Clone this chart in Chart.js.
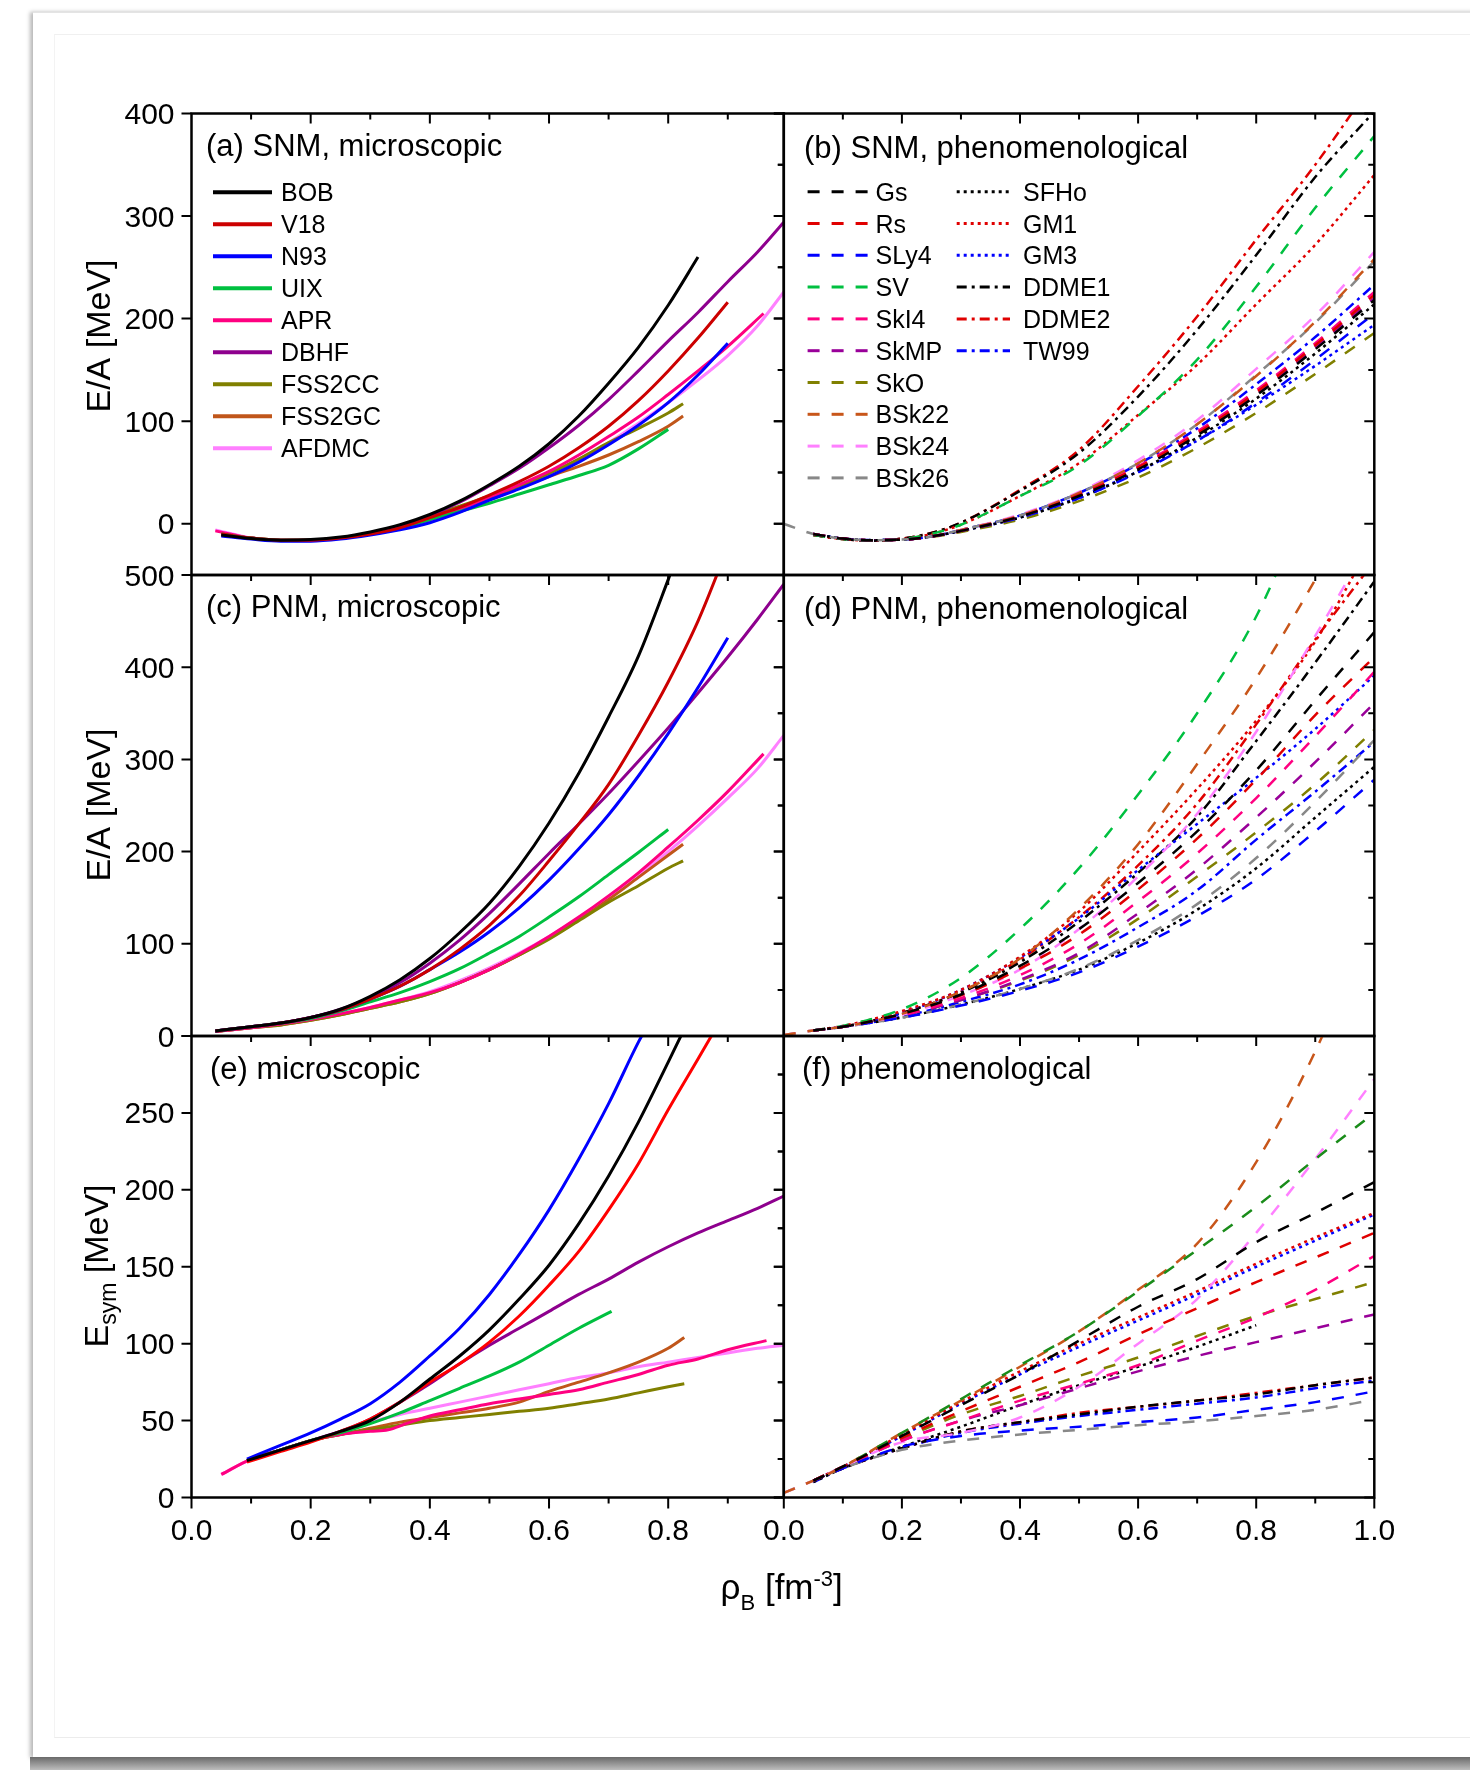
<!DOCTYPE html>
<html>
<head>
<title>Nuclear matter EoS</title>
<script src="https://cdn.jsdelivr.net/npm/chart.js"></script>
<style>
  body { margin: 0; width: 1470px; height: 1770px; overflow: hidden; position: relative; background: #fff; }
  #sheet { position: absolute; left: 33px; top: 12px; width: 1450px; height: 1745px; background: #fff;
           border-top: 1px solid #e4e4e4; box-shadow: -3px 0 4px rgba(0,0,0,0.28); }
  #inner { position: absolute; left: 54px; top: 34px; width: 1430px; height: 1702px;
           border-top: 1px solid #f0f0f0; border-left: 1px solid #f3f3f3; border-bottom: 1px solid #ececec; }
  #curl { position: absolute; left: 30px; top: 1757px; width: 1450px; height: 13px;
          background: linear-gradient(#6a6a6a, #bdbdbd); }
  canvas { position: absolute; left: 0; top: 0; }
</style>
</head>
<body>
<div id="sheet"></div>
<div id="inner"></div>
<div id="curl"></div>
<canvas id="pa" width="1470" height="1770"></canvas>
<canvas id="pb" width="1470" height="1770"></canvas>
<canvas id="pc" width="1470" height="1770"></canvas>
<canvas id="pd" width="1470" height="1770"></canvas>
<canvas id="pe" width="1470" height="1770"></canvas>
<canvas id="pf" width="1470" height="1770"></canvas>
<script>
// ---------- names / tick labels
const microNames = ['BOB', 'V18', 'N93', 'UIX', 'APR', 'DBHF', 'FSS2CC', 'FSS2GC', 'AFDMC'];
const phenoNames = ['Gs', 'Rs', 'SLy4', 'SV', 'SkI4', 'SkMP', 'SkO', 'BSk22', 'BSk24', 'BSk26',
                    'SFHo', 'GM1', 'GM3', 'DDME1', 'DDME2', 'TW99'];
const rhoTicksLeft = [0.0, 0.2, 0.4, 0.6, 0.8];
const rhoTicksRight = [0.0, 0.2, 0.4, 0.6, 0.8, 1.0];
const eaTicksSNM = [0, 100, 200, 300, 400];
const eaTicksPNM = [0, 100, 200, 300, 400, 500];
const esymTicks = [0, 50, 100, 150, 200, 250];

// ---------- (a) SNM microscopic  [rho, E/A]
const snmBOB = [[0.05,-11],[0.1,-14.5],[0.15,-16],[0.2,-15.5],[0.25,-13],[0.3,-8],[0.35,-1],[0.4,9],[0.45,22],[0.5,38],[0.55,56],[0.6,78],[0.65,105],[0.7,137],[0.75,172],[0.8,213],[0.85,260]];
const snmV18 = [[0.05,-10],[0.1,-14],[0.15,-16],[0.2,-16],[0.25,-14],[0.3,-10],[0.35,-4],[0.4,6],[0.45,16],[0.5,28],[0.55,41],[0.6,56],[0.65,74],[0.7,95],[0.75,120],[0.8,149],[0.85,181],[0.9,216]];
const snmN93 = [[0.05,-12],[0.1,-15],[0.15,-17],[0.2,-17],[0.25,-15],[0.3,-11],[0.35,-6],[0.4,1],[0.45,11],[0.5,23],[0.55,34],[0.6,46],[0.65,60],[0.7,77],[0.75,96],[0.8,118],[0.85,145],[0.9,176]];
const snmUIX = [[0.05,-10],[0.1,-14],[0.15,-16],[0.2,-16],[0.25,-14],[0.3,-10],[0.35,-5],[0.4,4],[0.45,12],[0.5,20],[0.55,29],[0.6,38],[0.65,47],[0.7,57],[0.75,73],[0.8,92]];
const snmAPR = [[0.04,-7],[0.1,-14],[0.15,-16],[0.2,-16],[0.25,-14],[0.3,-10],[0.35,-4],[0.4,4],[0.45,14],[0.5,26],[0.55,38],[0.6,51],[0.65,67],[0.7,85],[0.75,104],[0.8,126],[0.85,149],[0.9,173],[0.96,205]];
const snmDBHF = [[0.05,-11],[0.1,-14],[0.15,-16],[0.2,-16],[0.25,-14],[0.3,-9],[0.35,-2],[0.4,8],[0.45,21],[0.5,37],[0.55,54],[0.6,74],[0.65,96],[0.7,121],[0.75,149],[0.8,178],[0.85,206],[0.9,236],[0.95,265],[0.994,294]];
const snmFSS2CC = [[0.05,-10],[0.1,-14],[0.15,-16],[0.2,-16],[0.25,-14],[0.3,-9],[0.35,-2],[0.4,8],[0.45,17],[0.5,27],[0.55,37],[0.6,49],[0.65,63],[0.7,79],[0.75,93],[0.8,108],[0.825,117]];
const snmFSS2GC = [[0.05,-10],[0.1,-14],[0.15,-16],[0.2,-16],[0.25,-14],[0.3,-10],[0.35,-4],[0.4,5],[0.45,15],[0.5,25],[0.55,35],[0.6,46],[0.65,56],[0.7,67],[0.75,80],[0.8,95],[0.825,105]];
const snmAFDMC = [[0.04,-6],[0.1,-14],[0.15,-16],[0.2,-16.5],[0.25,-14],[0.3,-10],[0.35,-4],[0.4,3],[0.45,12],[0.5,23],[0.55,35],[0.6,48],[0.65,63],[0.7,79],[0.75,98],[0.8,118],[0.85,140],[0.9,164],[0.95,193],[0.994,226]];

// ---------- (c) PNM microscopic
const pnmBOB = [[0.04,5.5],[0.1,10],[0.15,14],[0.2,20],[0.25,29],[0.3,43],[0.35,61],[0.4,84],[0.45,112],[0.5,144],[0.55,184],[0.6,231],[0.65,285],[0.7,346],[0.75,412],[0.8,495],[0.82,530]];
const pnmV18 = [[0.04,5.5],[0.1,10],[0.15,14],[0.2,20],[0.25,28],[0.3,40],[0.35,54],[0.4,72],[0.45,94],[0.5,120],[0.55,152],[0.6,190],[0.65,230],[0.7,273],[0.75,326],[0.8,384],[0.85,450],[0.9,530]];
const pnmN93 = [[0.04,5.5],[0.1,10],[0.15,14],[0.2,20],[0.25,28],[0.3,40],[0.35,54],[0.4,72],[0.45,91],[0.5,113],[0.55,139],[0.6,169],[0.65,203],[0.7,240],[0.75,282],[0.8,328],[0.85,378],[0.9,432]];
const pnmUIX = [[0.04,5.5],[0.1,10],[0.15,14],[0.2,19],[0.25,27],[0.3,37],[0.35,47],[0.4,59],[0.45,73],[0.5,90],[0.55,108],[0.6,129],[0.65,151],[0.7,175],[0.75,199],[0.8,224]];
const pnmAPR = [[0.04,5],[0.1,9],[0.15,13],[0.2,18],[0.25,24],[0.3,31],[0.35,39],[0.4,47],[0.45,58],[0.5,72],[0.55,89],[0.6,108],[0.65,129],[0.7,152],[0.75,177],[0.8,205],[0.85,234],[0.9,265],[0.96,306]];
const pnmDBHF = [[0.04,5.5],[0.1,10],[0.15,14],[0.2,20],[0.25,29],[0.3,42],[0.35,58],[0.4,79],[0.45,104],[0.5,133],[0.55,165],[0.6,198],[0.65,230],[0.7,263],[0.75,298],[0.8,334],[0.85,372],[0.9,411],[0.95,452],[0.994,490]];
const pnmFSS2CC = [[0.04,5],[0.1,9],[0.15,12],[0.2,17],[0.25,23],[0.3,30],[0.35,37],[0.4,46],[0.45,58],[0.5,72],[0.55,88],[0.6,105],[0.65,125],[0.7,145],[0.75,163],[0.8,182],[0.825,190]];
const pnmFSS2GC = [[0.04,5],[0.1,9],[0.15,12],[0.2,17],[0.25,23],[0.3,30],[0.35,37],[0.4,46],[0.45,58],[0.5,72],[0.55,88],[0.6,106],[0.65,126],[0.7,148],[0.75,172],[0.8,196],[0.825,208]];
const pnmAFDMC = [[0.04,5],[0.1,9],[0.15,13],[0.2,18],[0.25,24],[0.3,31],[0.35,39],[0.4,48],[0.45,60],[0.5,74],[0.55,90],[0.6,108],[0.65,128],[0.7,150],[0.75,174],[0.8,200],[0.85,228],[0.9,258],[0.95,290],[0.994,326]];

// ---------- (e) Esym microscopic
const symBOB = [[0.093,24],[0.15,31],[0.2,37],[0.25,43],[0.3,50],[0.35,62],[0.4,77],[0.45,92],[0.5,109],[0.55,129],[0.6,151],[0.65,178],[0.7,209],[0.75,244],[0.8,283],[0.84,315]];
const symV18 = [[0.093,23],[0.15,30],[0.2,36],[0.25,43],[0.3,51],[0.35,62],[0.4,75],[0.45,87],[0.5,101],[0.55,118],[0.6,138],[0.65,160],[0.7,187],[0.75,217],[0.8,252],[0.85,285],[0.88,305]];
const symN93 = [[0.093,25],[0.15,34],[0.2,42],[0.25,51],[0.3,61],[0.35,75],[0.4,92],[0.45,110],[0.5,132],[0.55,158],[0.6,187],[0.65,220],[0.7,256],[0.75,296],[0.77,310]];
const symUIX = [[0.093,24],[0.15,31],[0.2,37],[0.25,42],[0.3,48],[0.35,55],[0.4,63],[0.45,71],[0.5,79],[0.55,88],[0.6,99],[0.65,110],[0.705,121]];
const symAPR = [[0.05,15],[0.1,25],[0.15,31],[0.2,37],[0.25,41],[0.3,43],[0.33,44],[0.36,48],[0.4,53],[0.45,57],[0.5,61],[0.55,64],[0.6,67],[0.65,70],[0.7,75],[0.75,80],[0.8,86],[0.85,90],[0.9,96],[0.965,102]];
const symDBHF = [[0.093,24],[0.15,31],[0.2,37],[0.25,43],[0.3,51],[0.35,62],[0.4,74],[0.45,87],[0.5,99],[0.55,110],[0.6,121],[0.65,132],[0.7,142],[0.75,153],[0.8,163],[0.85,172],[0.9,180],[0.95,188],[0.994,196]];
const symFSS2CC = [[0.093,24],[0.15,31],[0.2,37],[0.25,41],[0.3,44],[0.35,47],[0.4,50],[0.45,52],[0.5,54],[0.55,56],[0.6,58],[0.65,61],[0.7,64],[0.75,68],[0.8,72],[0.827,74]];
const symFSS2GC = [[0.093,24],[0.15,31],[0.2,37],[0.25,41],[0.3,45],[0.35,49],[0.4,52],[0.45,55],[0.5,58],[0.55,62],[0.6,69],[0.65,75],[0.7,81],[0.75,88],[0.8,97],[0.827,104]];
const symAFDMC = [[0.05,15],[0.1,25],[0.15,31],[0.2,37],[0.25,43],[0.3,49],[0.35,54],[0.4,58],[0.45,62],[0.5,66],[0.55,70],[0.6,74],[0.65,78],[0.7,81],[0.75,85],[0.8,88],[0.85,91],[0.9,94],[0.95,97],[0.994,99]];

// ---------- (b) SNM phenomenological
const bRho   = [0, 0.05, 0.1, 0.15, 0.2, 0.25, 0.3, 0.4, 0.5, 0.6, 0.7, 0.8, 0.9, 1.0];
const bGs    = [null, -10, -14.5, -16, -15.5, -12.5, -7, 7, 27, 53, 86, 125, 170, 218];
const bRs    = [null, -10, -14.5, -16, -15.5, -12.5, -7, 7, 28, 55, 88, 128, 174, 223];
const bSLy4  = [null, -10, -14.5, -16, -15.5, -12.5, -7, 6, 25, 50, 81, 118, 160, 205];
const bSV    = [null, -11, -15, -16.5, -15, -10, -1, 27, 57, 105, 160, 231, 308, 378];
const bSkI4  = [null, -10, -14.5, -16, -15.5, -12.5, -7, 7, 28, 56, 90, 130, 176, 226];
const bSkMP  = [null, -10, -14.5, -16, -15.5, -12.5, -7, 7, 27, 54, 87, 126, 172, 220];
const bSkO   = [null, -10, -14.5, -16, -15.5, -13, -8, 4, 22, 45, 74, 108, 146, 186];
const bBSk22 = [null, -10, -14.5, -16, -15.5, -12.5, -6, 8, 30, 59, 97, 144, 197, 258];
const bBSk24 = [null, -10, -14.5, -16, -15.5, -12.5, -6, 9, 31, 62, 101, 151, 203, 265];
const bBSk26 = [0, -10, -14.5, -16, -15.5, -12.5, -6, 8, 30, 59, 97, 145, 196, 256];
const bSFHo  = [null, -10, -14.5, -16, -15.5, -12.5, -7, 6, 25, 51, 84, 122, 166, 214];
const bGM1   = [null, -11, -15, -16.5, -15, -10, -1, 27, 59, 106, 155, 214, 272, 340];
const bGM3   = [null, -10, -14.5, -16, -15.5, -12.5, -7, 6, 26, 51, 81, 116, 154, 194];
const bDDME1 = [null, -11, -15, -16.5, -14.5, -9, 1, 32, 69, 124, 189, 262, 338, 402];
const bDDME2 = [null, -11, -15, -16.5, -14.5, -9, 1, 33, 72, 134, 202, 277, 350, 432];
const bTW99  = [null, -10, -14.5, -16, -15.5, -12.5, -6, 8, 30, 58, 93, 136, 182, 233];

// ---------- (d) PNM phenomenological
const dRho   = [0, 0.05, 0.1, 0.2, 0.3, 0.4, 0.5, 0.6, 0.7, 0.8, 0.9, 1.0];
const dGs    = [null, 6, 10, 24, 45, 76, 116, 166, 222, 288, 364, 438];
const dRs    = [null, 6, 10, 24, 44, 73, 110, 159, 214, 278, 348, 411];
const dSLy4  = [null, 6, 10, 20, 33, 49, 69, 97, 130, 170, 222, 278];
const dSV    = [null, 6, 11, 29, 63, 116, 182, 262, 350, 455, 600, 740];
const dSkI4  = [null, 6, 10, 22, 41, 66, 100, 146, 198, 258, 325, 395];
const dSkMP  = [null, 6, 10, 22, 39, 61, 90, 133, 181, 237, 297, 361];
const dSkO   = [null, 6, 10, 22, 39, 60, 88, 127, 173, 221, 273, 332];
const dBSk22 = [1, 6, 10, 24, 48, 84, 138, 208, 295, 388, 495, 610];
const dBSk24 = [1, 6, 10, 23, 44, 72, 116, 173, 241, 330, 434, 545];
const dBSk26 = [1, 6, 10, 20, 34, 51, 73, 104, 143, 193, 254, 321];
const dSFHo  = [null, 6, 10, 20, 34, 51, 72, 101, 137, 182, 237, 292];
const dGM1   = [null, 6, 11, 27, 50, 86, 135, 200, 268, 342, 428, 540];
const dGM3   = [null, 6, 10, 25, 50, 85, 128, 180, 230, 280, 333, 391];
const dDDME1 = [null, 6, 10, 25, 47, 80, 124, 177, 238, 320, 405, 493];
const dDDME2 = [null, 6, 10, 25, 48, 83, 129, 185, 252, 338, 430, 515];
const dTW99  = [null, 6, 10, 21, 37, 56, 83, 118, 158, 213, 265, 319];

// ---------- (f) Esym phenomenological
const fRho   = [0, 0.05, 0.1, 0.2, 0.3, 0.4, 0.5, 0.6, 0.7, 0.8, 0.9, 1.0];
const fGs    = [null, 11, 20, 40, 60, 80, 102, 124, 142, 166, 185, 205];
const fRs    = [null, 11, 20, 39, 56, 72, 88, 106, 123, 140, 156, 172];
const fSLy4  = [null, 11, 19, 33, 40, 43.5, 46, 49, 52, 57, 62, 69];
const fSV    = [null, 11, 20, 42, 64, 86, 108, 134, 161, 189, 220, 250];
const fSkI4  = [null, 11, 20, 37, 50, 63, 74, 86, 102, 117, 135, 157];
const fSkMP  = [null, 11, 20, 37, 50, 60, 71, 82, 92, 101, 110, 119];
const fSkO   = [null, 11, 20, 38, 54, 66, 79, 91, 105, 118, 129, 140];
const fBSk22 = [3, 11, 20, 42, 63, 85, 108, 135, 165, 218, 290, 380];
const fBSk24 = [3, 11, 20, 36, 42, 52, 72, 100, 129, 172, 220, 272];
const fBSk26 = [3, 11, 19, 31, 37, 41, 44, 47, 49.5, 53, 57, 63.5];
const fSFHo  = [null, 10, 19, 33, 46, 60, 73, 85, 98, 112, null, null];
const fGM1   = [null, 11, 20, 41, 62, 82, 100, 117, 134, 152, 169, 185];
const fGM3   = [null, 11, 20, 40, 61, 80, 98, 115, 132, 150, 167, 184];
const fDDME1 = [null, 11, 19, 32, 43, 49, 54, 59, 63, 67, 73, 78];
const fDDME2 = [null, 11, 19, 32, 43, 49, 55, 59, 63, 68, 73, 78];
const fTW99  = [null, 10, 19, 32, 42, 48, 53, 57, 61, 65, 71, 76];

// ---------- styles
const microColors = ['#000000', '#cc0000', '#0000ff', '#00c040', '#ff0080', '#8e008e', '#808000', '#c0561a', '#ff80ff'];
const phenoColors = ['#000000', '#e00000', '#0000ff', '#00c040', '#ff0080', '#990099', '#808000', '#c8561a', '#ff80ff', '#888888',
                     '#000000', '#e00000', '#0000ff', '#000000', '#e00000', '#0000ff'];
const phenoLine = ['dash', 'dash', 'dash', 'dash', 'dash', 'dash', 'dash', 'dash', 'dash', 'dash',
                   'dot', 'dot', 'dot', 'dashdot', 'dashdot', 'dashdot'];
const DASH = { solid: [], dash: [12, 12], dot: [3, 4], dashdot: [10, 5, 3, 5] };
const FONT = '"Liberation Sans", Arial, Helvetica, sans-serif';
const PAGE_W = 1470, PAGE_H = 1770;

const panelFrame = {
  id: 'panelFrame',
  afterDraw(chart, args, o) {
    const ctx = chart.ctx, a = chart.chartArea;
    const xs = chart.scales.x, ys = chart.scales.y;
    ctx.save();
    ctx.strokeStyle = '#000';
    ctx.fillStyle = '#000';
    ctx.setLineDash([]);
    ctx.lineWidth = 2;
    ctx.beginPath();
    const seg = (x1, y1, x2, y2) => { ctx.moveTo(x1, y1); ctx.lineTo(x2, y2); };
    o.xMajor.forEach(v => { const p = xs.getPixelForValue(v); seg(p, a.top, p, a.top + 10); });
    o.xMinor.forEach(v => { const p = xs.getPixelForValue(v); seg(p, a.top, p, a.top + 6); });
    if (o.xLabels) {
      o.xLabels.forEach(v => { const p = xs.getPixelForValue(v); seg(p, a.bottom, p, a.bottom + 11); });
      o.xMinor.forEach(v => { const p = xs.getPixelForValue(v); seg(p, a.bottom, p, a.bottom + 6); });
    }
    o.yMajor.forEach(v => {
      const p = ys.getPixelForValue(v);
      seg(a.left - 10, p, a.left, p);
      seg(a.right - 10, p, a.right, p);
    });
    o.yMinor.forEach(v => {
      const p = ys.getPixelForValue(v);
      seg(a.right - 6, p, a.right, p);
      if (!o.outerLeft) seg(a.left - 6, p, a.left, p);
    });
    ctx.stroke();
    ctx.lineWidth = 2.5;
    ctx.strokeRect(a.left, a.top, a.right - a.left, a.bottom - a.top);

    // tick labels
    ctx.font = '30px ' + FONT;
    ctx.textBaseline = 'alphabetic';
    if (o.yLabels) {
      ctx.textAlign = 'right';
      o.yLabels.forEach(v => ctx.fillText(String(v), a.left - 17, ys.getPixelForValue(v) + 10.5));
    }
    if (o.xLabels) {
      ctx.textAlign = 'center';
      o.xLabels.forEach(v => ctx.fillText(v.toFixed(1), xs.getPixelForValue(v), a.bottom + 42));
    }
    // panel title
    ctx.font = '31px ' + FONT;
    ctx.textAlign = 'left';
    ctx.fillText(o.title, o.titleAt[0], o.titleAt[1]);

    // legend
    if (o.legend) {
      o.legend.forEach(it => {
        ctx.strokeStyle = it.color;
        ctx.lineWidth = it.width;
        ctx.setLineDash(DASH[it.line]);
        ctx.beginPath();
        ctx.moveTo(it.x0, it.y);
        ctx.lineTo(it.x1, it.y);
        ctx.stroke();
        ctx.setLineDash([]);
        ctx.font = '25px ' + FONT;
        ctx.fillStyle = '#000';
        ctx.textAlign = 'left';
        ctx.fillText(it.label, it.tx, it.y + 9);
      });
    }

    // y axis title
    if (o.yTitle) {
      const t = o.yTitle;
      ctx.save();
      ctx.translate(t.x, t.y);
      ctx.rotate(-Math.PI / 2);
      ctx.fillStyle = '#000';
      ctx.textAlign = 'left';
      const big = '34px ' + FONT, small = '23px ' + FONT;
      ctx.font = big;
      const w1 = ctx.measureText(t.main).width;
      const w3 = ctx.measureText(t.rest).width;
      ctx.font = small;
      const w2 = t.sub ? ctx.measureText(t.sub).width : 0;
      let x = -(w1 + w2 + w3) / 2;
      ctx.font = big;
      ctx.fillText(t.main, x, 0);
      x += w1;
      if (t.sub) { ctx.font = small; ctx.fillText(t.sub, x, 8); x += w2; }
      ctx.font = big;
      ctx.fillText(t.rest, x, 0);
      ctx.restore();
    }

    // x axis title (rho_B [fm^-3])
    if (o.xTitle) {
      const big = '35px ' + FONT, small = '22px ' + FONT;
      const parts = [['\u03C1', big, 0], ['B', small, 11], [' [fm', big, 0], ['-3', small, -13], [']', big, 0]];
      let w = 0;
      parts.forEach(p => { ctx.font = p[1]; w += ctx.measureText(p[0]).width; });
      let x = o.xTitle[0] - w / 2;
      ctx.textAlign = 'left';
      parts.forEach(p => {
        ctx.font = p[1];
        ctx.fillText(p[0], x, o.xTitle[1] + p[2]);
        x += ctx.measureText(p[0]).width;
      });
    }
    ctx.restore();
  }
};

function microSet(pts, color) {
  return { data: pts, borderColor: color, borderWidth: 3, borderJoinStyle: 'round', fill: false };
}
function phenoSet(rho, ys, color, line) {
  return { data: rho.map((x, i) => ({ x: x, y: ys[i] })), borderColor: color, borderWidth: 2.5,
           borderDash: DASH[line], fill: false, spanGaps: false };
}

function makePanel(id, box, xMax, yMin, yMax, datasets, frame) {
  return new Chart(document.getElementById(id), {
    type: 'line',
    data: { datasets: datasets },
    options: {
      responsive: false,
      animation: false,
      layout: { padding: { left: box[0], top: box[1], right: PAGE_W - box[2], bottom: PAGE_H - box[3] } },
      scales: {
        x: { type: 'linear', min: 0, max: xMax, display: false },
        y: { type: 'linear', min: yMin, max: yMax, display: false }
      },
      elements: { point: { radius: 0 }, line: { cubicInterpolationMode: 'monotone' } },
      plugins: { legend: { display: false }, tooltip: { enabled: false }, panelFrame: frame }
    },
    plugins: [panelFrame]
  });
}

const colL = [191.5, 783.8], colR = [783.8, 1374.3];
const rows = [[113.5, 575], [575, 1036], [1036, 1497.5]];
const leftMax = 0.994;
const minorX = [0.1, 0.3, 0.5, 0.7, 0.9];
const majorX = [0.2, 0.4, 0.6, 0.8];

// legends
const legendA = microNames.map((n, i) => ({ label: n, color: microColors[i], line: 'solid', width: 4,
  x0: 213, x1: 272, tx: 281, y: 192.3 + 32 * i }));
const legendB = phenoNames.map((n, i) => {
  const c2 = i >= 10, r = c2 ? i - 10 : i;
  return { label: n, color: phenoColors[i], line: phenoLine[i], width: 3,
    x0: c2 ? 956.7 : 807.6, x1: c2 ? 1010 : 867.8, tx: c2 ? 1023 : 875.5, y: 191.7 + 31.8 * r };
});

const snmMicro = [snmBOB, snmV18, snmN93, snmUIX, snmAPR, snmDBHF, snmFSS2CC, snmFSS2GC, snmAFDMC];
const pnmMicro = [pnmBOB, pnmV18, pnmN93, pnmUIX, pnmAPR, pnmDBHF, pnmFSS2CC, pnmFSS2GC, pnmAFDMC];
const symMicro = [symBOB, symV18, symN93, symUIX, symAPR, symDBHF, symFSS2CC, symFSS2GC, symAFDMC];
const snmPheno = [bGs, bRs, bSLy4, bSV, bSkI4, bSkMP, bSkO, bBSk22, bBSk24, bBSk26, bSFHo, bGM1, bGM3, bDDME1, bDDME2, bTW99];
const pnmPheno = [dGs, dRs, dSLy4, dSV, dSkI4, dSkMP, dSkO, dBSk22, dBSk24, dBSk26, dSFHo, dGM1, dGM3, dDDME1, dDDME2, dTW99];
const symPheno = [fGs, fRs, fSLy4, fSV, fSkI4, fSkMP, fSkO, fBSk22, fBSk24, fBSk26, fSFHo, fGM1, fGM3, fDDME1, fDDME2, fTW99];
const symMicroColors = microColors.map((c, i) => i === 1 ? '#ff0000' : c);
const symPhenoColors = phenoColors.map((c, i) => i === 3 ? '#1a8c1a' : c);

makePanel('pa', [colL[0], rows[0][0], colL[1], rows[0][1]], leftMax, -50, 400,
  snmMicro.map((s, i) => microSet(s, microColors[i])),
  { xMajor: majorX, xMinor: minorX, yMajor: eaTicksSNM, yMinor: [50, 150, 250, 350], outerLeft: true,
    yLabels: eaTicksSNM, title: '(a) SNM, microscopic', titleAt: [206, 156], legend: legendA,
    yTitle: { main: 'E/A [MeV]', sub: '', rest: '', x: 110, y: 336 } });

makePanel('pb', [colR[0], rows[0][0], colR[1], rows[0][1]], 1.0, -50, 400,
  snmPheno.map((s, i) => phenoSet(bRho, s, phenoColors[i], phenoLine[i])),
  { xMajor: majorX, xMinor: minorX, yMajor: eaTicksSNM, yMinor: [50, 150, 250, 350], outerLeft: false,
    title: '(b) SNM, phenomenological', titleAt: [804, 158], legend: legendB });

makePanel('pc', [colL[0], rows[1][0], colL[1], rows[1][1]], leftMax, 0, 500,
  pnmMicro.map((s, i) => microSet(s, microColors[i])),
  { xMajor: majorX, xMinor: minorX, yMajor: eaTicksPNM, yMinor: [50, 150, 250, 350, 450], outerLeft: true,
    yLabels: eaTicksPNM, title: '(c) PNM, microscopic', titleAt: [206, 617],
    yTitle: { main: 'E/A [MeV]', sub: '', rest: '', x: 110, y: 805 } });

makePanel('pd', [colR[0], rows[1][0], colR[1], rows[1][1]], 1.0, 0, 500,
  pnmPheno.map((s, i) => phenoSet(dRho, s, phenoColors[i], phenoLine[i])),
  { xMajor: majorX, xMinor: minorX, yMajor: eaTicksPNM, yMinor: [50, 150, 250, 350, 450], outerLeft: false,
    title: '(d) PNM, phenomenological', titleAt: [804, 619] });

makePanel('pe', [colL[0], rows[2][0], colL[1], rows[2][1]], leftMax, 0, 300,
  symMicro.map((s, i) => microSet(s, symMicroColors[i])),
  { xMajor: majorX, xMinor: minorX, yMajor: esymTicks.concat([300]), yMinor: [25, 75, 125, 175, 225, 275], outerLeft: true,
    yLabels: esymTicks, xLabels: rhoTicksLeft, title: '(e) microscopic', titleAt: [210, 1079],
    yTitle: { main: 'E', sub: 'sym', rest: ' [MeV]', x: 108, y: 1266 }, xTitle: [781.7, 1599] });

makePanel('pf', [colR[0], rows[2][0], colR[1], rows[2][1]], 1.0, 0, 300,
  symPheno.map((s, i) => phenoSet(fRho, s, symPhenoColors[i], phenoLine[i])),
  { xMajor: majorX, xMinor: minorX, yMajor: esymTicks.concat([300]), yMinor: [25, 75, 125, 175, 225, 275], outerLeft: false,
    xLabels: rhoTicksRight, title: '(f) phenomenological', titleAt: [802, 1079] });
</script>
</body>
</html>
